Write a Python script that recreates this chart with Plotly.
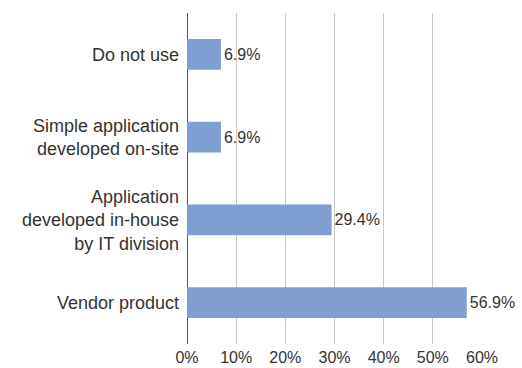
import plotly.graph_objects as go

# Survey responses: share of respondents per approach
categories = [
    "Do not use",
    "Simple application<br>developed on-site",
    "Application<br>developed in-house<br>by IT division",
    "Vendor product",
]
shares = [6.9, 6.9, 29.4, 56.9]
tick_values = [0, 10, 20, 30, 40, 50, 60]
tick_labels = ["0%", "10%", "20%", "30%", "40%", "50%", "60%"]

font_family = "Liberation Sans, Arial, sans-serif"
text_color = "#333333"

fig = go.Figure(
    go.Bar(
        x=shares,
        y=categories,
        orientation="h",
        marker=dict(color="#7f9ed2", line=dict(width=0)),
        text=[f"{v:.1f}%" for v in shares],
        textposition="outside",
        textfont=dict(family=font_family, size=16, color=text_color),
        cliponaxis=False,
    )
)

fig.update_layout(
    width=522,
    height=368,
    margin=dict(l=187, r=40, t=13, b=24, autoexpand=False),
    paper_bgcolor="white",
    plot_bgcolor="white",
    bargap=0.63,
    showlegend=False,
    font=dict(family=font_family, color=text_color),
)

fig.update_xaxes(
    range=[0, 60],
    tickvals=tick_values,
    ticktext=tick_labels,
    tickfont=dict(family=font_family, size=16, color=text_color),
    ticklabelstandoff=2,
    automargin=False,
    showgrid=True,
    gridcolor="#c8c8c8",
    gridwidth=1,
    zeroline=True,
    zerolinecolor="#555555",
    zerolinewidth=1,
    showline=False,
    fixedrange=True,
)

fig.update_yaxes(
    autorange="reversed",
    tickfont=dict(family=font_family, size=18, color=text_color),
    ticklabelstandoff=7,
    automargin=False,
    showgrid=False,
    showline=False,
    fixedrange=True,
)

fig.write_html("out.html")
